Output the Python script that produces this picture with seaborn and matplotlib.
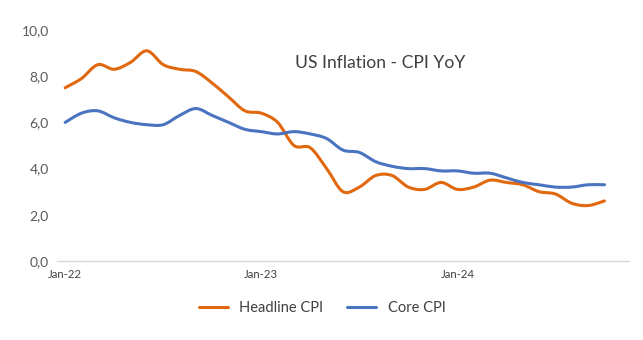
import matplotlib
matplotlib.use("Agg")
import matplotlib.pyplot as plt
from matplotlib.path import Path
from matplotlib.patches import PathPatch
import seaborn as sns
import pandas as pd
import numpy as np

# Monthly YoY inflation, Jan-22 .. Oct-24
months = pd.date_range("2022-01-01", "2024-10-01", freq="MS").strftime("%b-%y").tolist()
headline_cpi = [7.5, 7.9, 8.5, 8.3, 8.6, 9.1, 8.5, 8.3, 8.2, 7.7, 7.1, 6.5,
                6.4, 6.0, 5.0, 4.9, 4.0, 3.0, 3.2, 3.7, 3.7, 3.2, 3.1, 3.4,
                3.1, 3.2, 3.5, 3.4, 3.3, 3.0, 2.9, 2.5, 2.4, 2.6]
core_cpi = [6.0, 6.4, 6.5, 6.2, 6.0, 5.9, 5.9, 6.3, 6.6, 6.3, 6.0, 5.7,
            5.6, 5.5, 5.6, 5.5, 5.3, 4.8, 4.7, 4.3, 4.1, 4.0, 4.0, 3.9,
            3.9, 3.8, 3.8, 3.6, 3.4, 3.3, 3.2, 3.2, 3.3, 3.3]
series_names = ["Headline CPI", "Core CPI"]
tick_labels = ["Jan-22", "Jan-23", "Jan-24"]
y_ticks = [0, 2, 4, 6, 8, 10]

df = pd.DataFrame({"idx": np.arange(len(months)),
                   series_names[0]: headline_cpi,
                   series_names[1]: core_cpi})
long = df.melt(id_vars="idx", var_name="series", value_name="value")

sns.set_theme(style="white")
plt.rcParams["font.family"] = ["Lato", "DejaVu Sans"]

fig = plt.figure(figsize=(6.43, 3.40), dpi=100)
ax = fig.add_axes([57 / 643, 1 - 261 / 340, (629 - 57) / 643, (261 - 30) / 340])

palette = {series_names[0]: "#E2680F", series_names[1]: "#4A74C0"}
sns.lineplot(data=long, x="idx", y="value", hue="series", palette=palette,
             linewidth=2.2, ax=ax, legend=True)
legend_handles = ax.get_legend().legend_handles
legend_labels = [t.get_text() for t in ax.get_legend().get_texts()]


def smooth_path(xy, tension=1 / 6):
    """Cubic Bezier path through the points (Catmull-Rom style smoothing)."""
    pts = np.asarray(xy, dtype=float)
    n = len(pts)
    verts = [pts[0]]
    codes = [Path.MOVETO]
    for i in range(n - 1):
        p0 = pts[i - 1] if i > 0 else pts[i]
        p1, p2 = pts[i], pts[i + 1]
        p3 = pts[i + 2] if i + 2 < n else pts[i + 1]
        c1 = p1 + (p2 - p0) * tension
        c2 = p2 - (p3 - p1) * tension
        verts += [c1, c2, p2]
        codes += [Path.CURVE4] * 3
    return Path(verts, codes)


# Render each series line as a smoothed curve through its own data points
for line in list(ax.get_lines()):
    xy = line.get_xydata()
    if len(xy) < 3:
        continue
    patch = PathPatch(smooth_path(xy), facecolor="none", edgecolor=line.get_color(),
                      linewidth=line.get_linewidth(), capstyle="round",
                      joinstyle="round", transform=ax.transData)
    ax.add_patch(patch)
    line.set_visible(False)

ax.set_xlim(-0.5, 34.5)
ax.set_ylim(0, 10)
ax.set_yticks(y_ticks)
ax.set_yticklabels([f"{v:.1f}".replace(".", ",") for v in y_ticks],
                   fontsize=10, color="#595959")
tick_pos = [months.index(t) for t in tick_labels]
ax.set_xticks(tick_pos)
ax.set_xticklabels(tick_labels, fontsize=8.2, color="#404040")
ax.tick_params(axis="both", length=0)
ax.tick_params(axis="y", pad=6)
ax.tick_params(axis="x", pad=6)
ax.set_xlabel("")
ax.set_ylabel("")
for side in ["top", "right", "left"]:
    ax.spines[side].set_visible(False)
ax.spines["bottom"].set_color("#D9D9D9")
ax.spines["bottom"].set_linewidth(1.0)

ax.text(0.565, 0.855, "US Inflation - CPI YoY", transform=ax.transAxes,
        ha="center", va="center", fontsize=12.6, color="#404040")

ax.legend(legend_handles, legend_labels, loc="center",
          bbox_to_anchor=(322 / 643, 1 - 308 / 340),
          bbox_transform=fig.transFigure, ncol=2, frameon=False, fontsize=10.5,
          handlelength=2.0, columnspacing=1.6, labelcolor="#404040")

fig.savefig("out.png", dpi=100, facecolor="white")
